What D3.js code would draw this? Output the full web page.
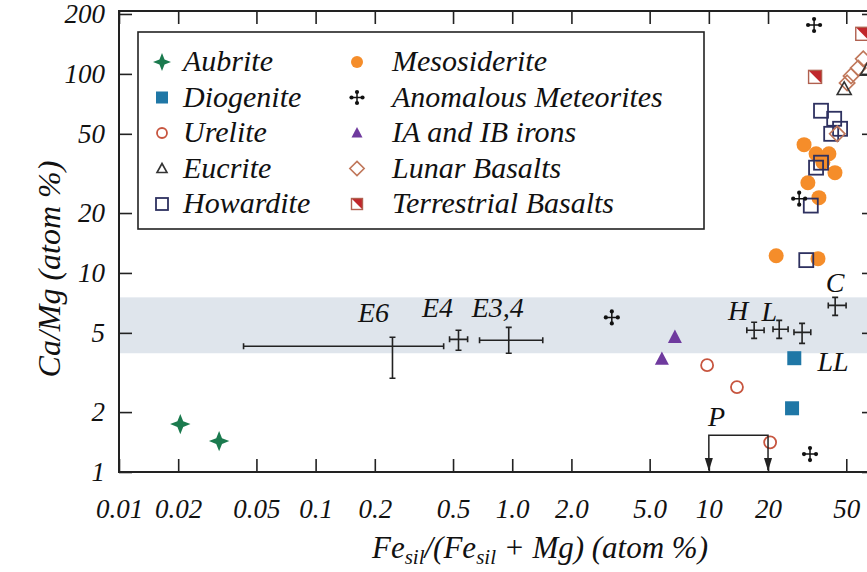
<!DOCTYPE html>
<html>
<head>
<meta charset="utf-8">
<script src="https://cdn.jsdelivr.net/npm/d3@7"></script>
<style>
body{margin:0;background:#fff;}
svg{display:block;}
text{font-family:"Liberation Serif","DejaVu Serif",serif;font-style:italic;fill:#111;}
</style>
</head>
<body>
<svg id="chart"></svg>
<script>
// values (x = Fe_sil/(Fe_sil+Mg) %, y = Ca/Mg %)
var aubrite = [[0.0205,1.74],[0.0323,1.43]];
var diogenite = [[27.2,3.73],[26.5,2.09]];
var urelite = [[9.8,3.44],[13.9,2.67],[20.5,1.41]];
var eucrite = [[48.8,84],[64,105]];
var howardite = [[37.2,65.3],[43.4,59.5],[41.9,50.0],[46.5,53.0],[37.2,35.8],[35.1,33.8],[33.0,21.8],[31.3,11.6]];
var mesosiderite = [[30.5,44.1],[35.1,39.7],[40.8,39.7],[43.8,31.9],[31.9,28.4],[36.3,23.9],[22.0,12.2],[35.9,11.8],[38.0,36.0]];
var anomalous = [[34.3,176],[3.21,5.98],[28.8,23.6],[32.7,1.23]];
var irons = [[6.72,4.75],[5.77,3.69]];
var lunar = [[61.0,119],[57.5,107],[52.9,97.7],[50.5,90.1],[45.0,50.0]];
var terrestrial = [[34.7,96.6],[60.3,159]];

// chondrite groups with ranges [x, y, xmin, xmax, ymin, ymax]
var chondriteNames = ["E6","E4","E3,4","H","L","LL","C"];
var chondrites = [
  [0.246,4.28,0.043,0.448,2.96,4.75],
  [0.533,4.64,0.480,0.593,4.09,5.15],
  [0.96,4.59,0.682,1.43,3.95,5.33],
  [17.0,5.15,15.6,19.1,4.69,5.65],
  [22.8,5.21,21.2,25.3,4.69,5.78],
  [29.8,5.03,27.1,33.0,4.43,5.58],
  [43.9,6.87,40.5,49.9,6.12,7.54]
];

var band = [3.95,7.54];
var pRange = [10,20];
var pLevel = 1.53;

var xTicks = [0.01,0.02,0.05,0.1,0.2,0.5,1,2,5,10,20,50];
var xTickLabels = ["0.01","0.02","0.05","0.1","0.2","0.5","1.0","2.0","5.0","10","20","50"];
var yTicks = [1,2,5,10,20,50,100,200];

var legendLeft = ["Aubrite","Diogenite","Urelite","Eucrite","Howardite"];
var legendRight = ["Mesosiderite","Anomalous Meteorites","IA and IB irons","Lunar Basalts","Terrestrial Basalts"];

var screen = {width:867,height:572};
var plot = {left:119,right:875,top:11,bottom:472};

var svg = d3.select("#chart")
  .attr("width",screen.width)
  .attr("height",screen.height);

var xScale = d3.scaleLog().domain([0.01,70]).range([plot.left,plot.right]);
var yScale = d3.scaleLog().domain([1,207]).range([plot.bottom,plot.top]);

// symbol drawing
var drawSymbol = function(g,type,s)
{
  if(type=="Aubrite")
  {
    var r=s*0.6, w=s*0.17;
    g.append("path")
      .attr("d","M0,"+(-r)+"L"+w+","+(-w)+"L"+r+",0L"+w+","+w+"L0,"+r+"L"+(-w)+","+w+"L"+(-r)+",0L"+(-w)+","+(-w)+"Z")
      .attr("fill","#1b7a4e");
  }
  else if(type=="Diogenite")
  {
    g.append("rect").attr("x",-s/2).attr("y",-s/2).attr("width",s).attr("height",s).attr("fill","#1f77a6");
  }
  else if(type=="Urelite")
  {
    g.append("circle").attr("r",s/2-1).attr("fill","none").attr("stroke","#c7553f").attr("stroke-width",1.8);
  }
  else if(type=="Eucrite")
  {
    g.append("path").attr("d","M0,"+(-s*0.5)+"L"+(s*0.5)+","+(s*0.4)+"L"+(-s*0.5)+","+(s*0.4)+"Z")
      .attr("fill","none").attr("stroke","#333").attr("stroke-width",1.6);
  }
  else if(type=="Howardite")
  {
    g.append("rect").attr("x",-s/2).attr("y",-s/2).attr("width",s).attr("height",s)
      .attr("fill","none").attr("stroke","#2e3160").attr("stroke-width",1.8);
  }
  else if(type=="Mesosiderite")
  {
    g.append("circle").attr("r",s/2).attr("fill","#f58d2a");
  }
  else if(type=="Anomalous Meteorites")
  {
    var a=s/2;
    g.append("path").attr("d","M"+(-a)+",0H"+a+"M0,"+(-a)+"V"+a).attr("stroke","#111").attr("stroke-width",1.5);
    [[-a,0],[a,0],[0,-a],[0,a]].forEach(function(p){
      g.append("circle").attr("cx",p[0]).attr("cy",p[1]).attr("r",2.1).attr("fill","#111");
    });
  }
  else if(type=="IA and IB irons")
  {
    g.append("path").attr("d","M0,"+(-s*0.55)+"L"+(s*0.5)+","+(s*0.4)+"L"+(-s*0.5)+","+(s*0.4)+"Z")
      .attr("fill","#6f3a9e");
  }
  else if(type=="Lunar Basalts")
  {
    var d=s*0.55;
    g.append("path").attr("d","M0,"+(-d)+"L"+d+",0L0,"+d+"L"+(-d)+",0Z")
      .attr("fill","none").attr("stroke","#c0775a").attr("stroke-width",1.6);
  }
  else if(type=="Terrestrial Basalts")
  {
    var h=s/2;
    g.append("rect").attr("x",-h).attr("y",-h).attr("width",s).attr("height",s).attr("fill","#fff");
    g.append("path").attr("d","M"+(-h)+","+(-h)+"L"+h+","+(-h)+"L"+h+","+h+"Z").attr("fill","#c0262b");
    g.append("rect").attr("x",-h).attr("y",-h).attr("width",s).attr("height",s)
      .attr("fill","none").attr("stroke","#b0604f").attr("stroke-width",1.4);
  }
}

// shaded band
svg.append("rect")
  .attr("x",plot.left)
  .attr("y",yScale(band[1]))
  .attr("width",plot.right-plot.left)
  .attr("height",yScale(band[0])-yScale(band[1]))
  .attr("fill","#dfe5ec");

// axes (inward ticks)
var axes = svg.append("g");
var bottomAxis = d3.axisBottom(xScale).tickValues(xTicks)
  .tickFormat(function(d,i){return xTickLabels[i];})
  .tickSizeInner(-13).tickSizeOuter(0).tickPadding(27);
axes.append("g").attr("transform","translate(0,"+plot.bottom+")").call(bottomAxis);
axes.append("g").attr("transform","translate(0,"+plot.top+")")
  .call(d3.axisTop(xScale).tickValues(xTicks).tickFormat("").tickSizeInner(-13).tickSizeOuter(0));
var leftAxis = d3.axisLeft(yScale).tickValues(yTicks).tickFormat(d3.format("d"))
  .tickSizeInner(-13).tickSizeOuter(0).tickPadding(14);
axes.append("g").attr("transform","translate("+plot.left+",0)").call(leftAxis);
axes.append("g").attr("transform","translate("+plot.right+",0)")
  .call(d3.axisRight(yScale).tickValues(yTicks).tickFormat("").tickSizeInner(-13).tickSizeOuter(0));
axes.selectAll(".domain").remove();
axes.selectAll(".tick line").attr("stroke","#222").attr("stroke-width",1.6);
axes.selectAll(".tick text")
  .style("font-family","'Liberation Serif',serif")
  .style("font-style","italic")
  .style("font-size","27px")
  .attr("fill","#111");

// frame
svg.append("rect")
  .attr("x",plot.left).attr("y",plot.top)
  .attr("width",plot.right-plot.left).attr("height",plot.bottom-plot.top)
  .attr("fill","none").attr("stroke","#222").attr("stroke-width",2);

// legend box
var legend = svg.append("g");
legend.append("rect")
  .attr("x",138).attr("y",32).attr("width",566).attr("height",197)
  .attr("fill","#fff").attr("stroke","#222").attr("stroke-width",1.6);
var legendSize = {"Aubrite":15,"Diogenite":12,"Urelite":12,"Eucrite":10,"Howardite":12,
  "Mesosiderite":12,"Anomalous Meteorites":11,"IA and IB irons":11,"Lunar Basalts":13,"Terrestrial Basalts":11};
var drawLegendColumn = function(names,sx,tx)
{
  names.forEach(function(n,i){
    var cy = 62+i*35.5;
    var g = legend.append("g").attr("transform","translate("+sx+","+cy+")");
    drawSymbol(g,n,legendSize[n]);
    legend.append("text").text(n)
      .attr("x",tx).attr("y",cy).attr("dy","0.3em")
      .style("font-size","30px");
  });
}
drawLegendColumn(legendLeft,162,183);
drawLegendColumn(legendRight,357,392);

// data points
var points = svg.append("g");
var plotSeries = function(data,type,s)
{
  data.forEach(function(p){
    var g = points.append("g").attr("transform","translate("+xScale(p[0])+","+yScale(p[1])+")");
    drawSymbol(g,type,s);
  });
}
plotSeries(mesosiderite,"Mesosiderite",15);
plotSeries(howardite,"Howardite",14);
plotSeries(lunar,"Lunar Basalts",14);
plotSeries(eucrite,"Eucrite",14);
plotSeries(terrestrial,"Terrestrial Basalts",13);
plotSeries(aubrite,"Aubrite",17);
plotSeries(diogenite,"Diogenite",14);
plotSeries(urelite,"Urelite",14);
plotSeries(irons,"IA and IB irons",14);
plotSeries(anomalous,"Anomalous Meteorites",12);

// chondrite error bars
var bars = svg.append("g").attr("stroke","#222").attr("stroke-width",1.6).attr("fill","none");
var cap = 3;
chondrites.forEach(function(c){
  var cx=xScale(c[0]), cy=yScale(c[1]);
  var x0=xScale(c[2]), x1=xScale(c[3]), y0=yScale(c[4]), y1=yScale(c[5]);
  bars.append("path").attr("d",
    "M"+x0+","+cy+"H"+x1+
    "M"+x0+","+(cy-cap)+"V"+(cy+cap)+
    "M"+x1+","+(cy-cap)+"V"+(cy+cap)+
    "M"+cx+","+y1+"V"+y0+
    "M"+(cx-cap)+","+y1+"H"+(cx+cap)+
    "M"+(cx-cap)+","+y0+"H"+(cx+cap));
});
var labelOffset = {"E6":[-19,-24],"E4":[-21,-22],"E3,4":[-11,-23],"H":[-16,-10],"L":[-10,-8],"LL":[31,39],"C":[0,-13]};
chondriteNames.forEach(function(n,i){
  var c = chondrites[i];
  svg.append("text").text(n)
    .attr("x",xScale(c[0])+labelOffset[n][0])
    .attr("y",yScale(c[1])+labelOffset[n][1])
    .attr("text-anchor","middle")
    .style("font-size","28px");
});

// P bracket with arrows
var px0=xScale(pRange[0]), px1=xScale(pRange[1]), py=yScale(pLevel);
svg.append("path")
  .attr("d","M"+px0+","+(plot.bottom-2)+"V"+py+"H"+px1+"V"+(plot.bottom-2))
  .attr("fill","none").attr("stroke","#222").attr("stroke-width",1.5);
[px0,px1].forEach(function(ax){
  svg.append("path")
    .attr("d","M"+(ax-4)+","+(plot.bottom-14)+"L"+(ax+4)+","+(plot.bottom-14)+"L"+ax+","+(plot.bottom-1)+"Z")
    .attr("fill","#222");
});
svg.append("text").text("P")
  .attr("x",(px0+px1)/2-22).attr("y",py-9)
  .attr("text-anchor","middle")
  .style("font-size","28px");

// axis titles
var xt = svg.append("text")
  .attr("x",540).attr("y",558)
  .attr("text-anchor","middle")
  .style("font-size","31px");
xt.append("tspan").text("Fe");
xt.append("tspan").text("sil").attr("baseline-shift","-30%").style("font-size","21px");
xt.append("tspan").text("/(Fe");
xt.append("tspan").text("sil").attr("baseline-shift","-30%").style("font-size","21px");
xt.append("tspan").text(" + Mg) (atom %)");

svg.append("text")
  .attr("transform","translate(60,269) rotate(-90)")
  .attr("text-anchor","middle")
  .style("font-size","32px")
  .text("Ca/Mg (atom %)");
</script>
</body>
</html>
